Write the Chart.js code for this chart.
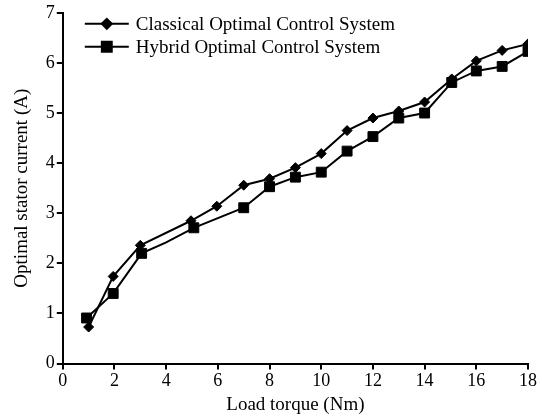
<!DOCTYPE html>
<html>
<head>
<meta charset="utf-8">
<script src="https://cdn.jsdelivr.net/npm/chart.js@4.4.0/dist/chart.umd.min.js"></script>
<style>
  html, body { margin: 0; padding: 0; background: #fff; }
  #wrap { width: 542px; height: 418px; }
</style>
</head>
<body>
<div id="wrap"><canvas id="myChart" width="542" height="418"></canvas></div>
<script>
// values
var classicalTorque = [1, 1.95, 3, 4.96, 5.96, 7, 8, 9, 10, 11, 12, 13, 14, 15.05, 16, 17, 18];
var classicalCurrent = [0.73, 1.74, 2.36, 2.85, 3.14, 3.56, 3.69, 3.91, 4.19, 4.65, 4.90, 5.04, 5.22, 5.68, 6.04, 6.25, 6.38];

var hybridTorque = [0.92, 1.95, 3.05, 4, 5.07, 7, 8, 9, 10, 11, 12, 13, 14, 15.05, 16, 17, 18];
var hybridCurrent = [0.91, 1.40, 2.20, 2.42, 2.71, 3.11, 3.53, 3.72, 3.82, 4.24, 4.53, 4.90, 5.00, 5.61, 5.84, 5.93, 6.23];
var hybridMarked = [1, 1, 1, 0, 1, 1, 1, 1, 1, 1, 1, 1, 1, 1, 1, 1, 1]; // no marker at 4 Nm

var xTicks = [0, 2, 4, 6, 8, 10, 12, 14, 16, 18];
var yTicks = [0, 1, 2, 3, 4, 5, 6, 7];

var seriesNames = ['Classical Optimal Control System', 'Hybrid Optimal Control System'];

var serif = "'Liberation Serif', 'Times New Roman', serif";

function toPoints(xs, ys) {
    return xs.map(function (x, i) { return { x: x, y: ys[i] }; });
}

// legend with line + marker, drawn inside the plot like the original
var lineLegend = {
    id: 'lineLegend',
    afterDraw: function (chart) {
        var ctx = chart.ctx;
        var area = chart.chartArea;
        ctx.save();
        ctx.font = '19px ' + serif;
        ctx.textBaseline = 'middle';
        chart.data.datasets.forEach(function (ds, i) {
            var y = area.top + 11 + i * 23;
            var x0 = area.left + 22;
            ctx.strokeStyle = '#000';
            ctx.lineWidth = 2;
            ctx.beginPath();
            ctx.moveTo(x0, y);
            ctx.lineTo(x0 + 44, y);
            ctx.stroke();
            Chart.helpers.drawPoint(ctx, {
                pointStyle: ds.pointStyle,
                radius: i === 0 ? 5 : 7,
                borderWidth: 1
            }, x0 + 22, y);
            ctx.fillStyle = '#000';
            ctx.fillText(ds.label, x0 + 51, y + 1);
        });
        ctx.restore();
    }
};

var ctx = document.getElementById('myChart');

var chart = new Chart(ctx, {
    type: 'line',
    data: {
        datasets: [{
            label: seriesNames[0],
            data: toPoints(classicalTorque, classicalCurrent),
            borderColor: '#000',
            backgroundColor: '#000',
            borderWidth: 2,
            pointStyle: 'rectRot',
            pointRadius: 5,
            pointBorderWidth: 1,
            tension: 0
        }, {
            label: seriesNames[1],
            data: toPoints(hybridTorque, hybridCurrent),
            borderColor: '#000',
            backgroundColor: '#000',
            borderWidth: 2,
            pointStyle: 'rect',
            pointRadius: hybridMarked.map(function (m) { return m ? 7 : 0; }),
            pointBorderWidth: 1,
            tension: 0
        }]
    },
    options: {
        responsive: false,
        animation: false,
        layout: { padding: { top: -3, right: 14, left: 11, bottom: 2 } },
        plugins: {
            legend: { display: false },
            tooltip: { enabled: false }
        },
        scales: {
            x: {
                type: 'linear',
                min: 0,
                max: 18,
                afterBuildTicks: function (axis) {
                    axis.ticks = xTicks.map(function (v) { return { value: v }; });
                },
                ticks: { color: '#000', font: { family: serif, size: 18 }, padding: 1 },
                grid: { display: true, drawOnChartArea: false, drawTicks: true, tickLength: 6, color: '#000', lineWidth: 2 },
                border: { display: true, color: '#000', width: 2 },
                title: { display: true, text: 'Load torque (Nm)', color: '#000', font: { family: serif, size: 19 }, padding: { top: 0, bottom: 0 } }
            },
            y: {
                min: 0,
                max: 7,
                afterBuildTicks: function (axis) {
                    axis.ticks = yTicks.map(function (v) { return { value: v }; });
                },
                ticks: { color: '#000', font: { family: serif, size: 18 }, padding: 2 },
                grid: { display: true, drawOnChartArea: false, drawTicks: true, tickLength: 6, color: '#000', lineWidth: 2 },
                border: { display: true, color: '#000', width: 2 },
                title: { display: true, text: 'Optimal stator current (A)', color: '#000', font: { family: serif, size: 19 }, padding: { top: 0, bottom: 10 } }
            }
        }
    },
    plugins: [lineLegend]
});
</script>
</body>
</html>
